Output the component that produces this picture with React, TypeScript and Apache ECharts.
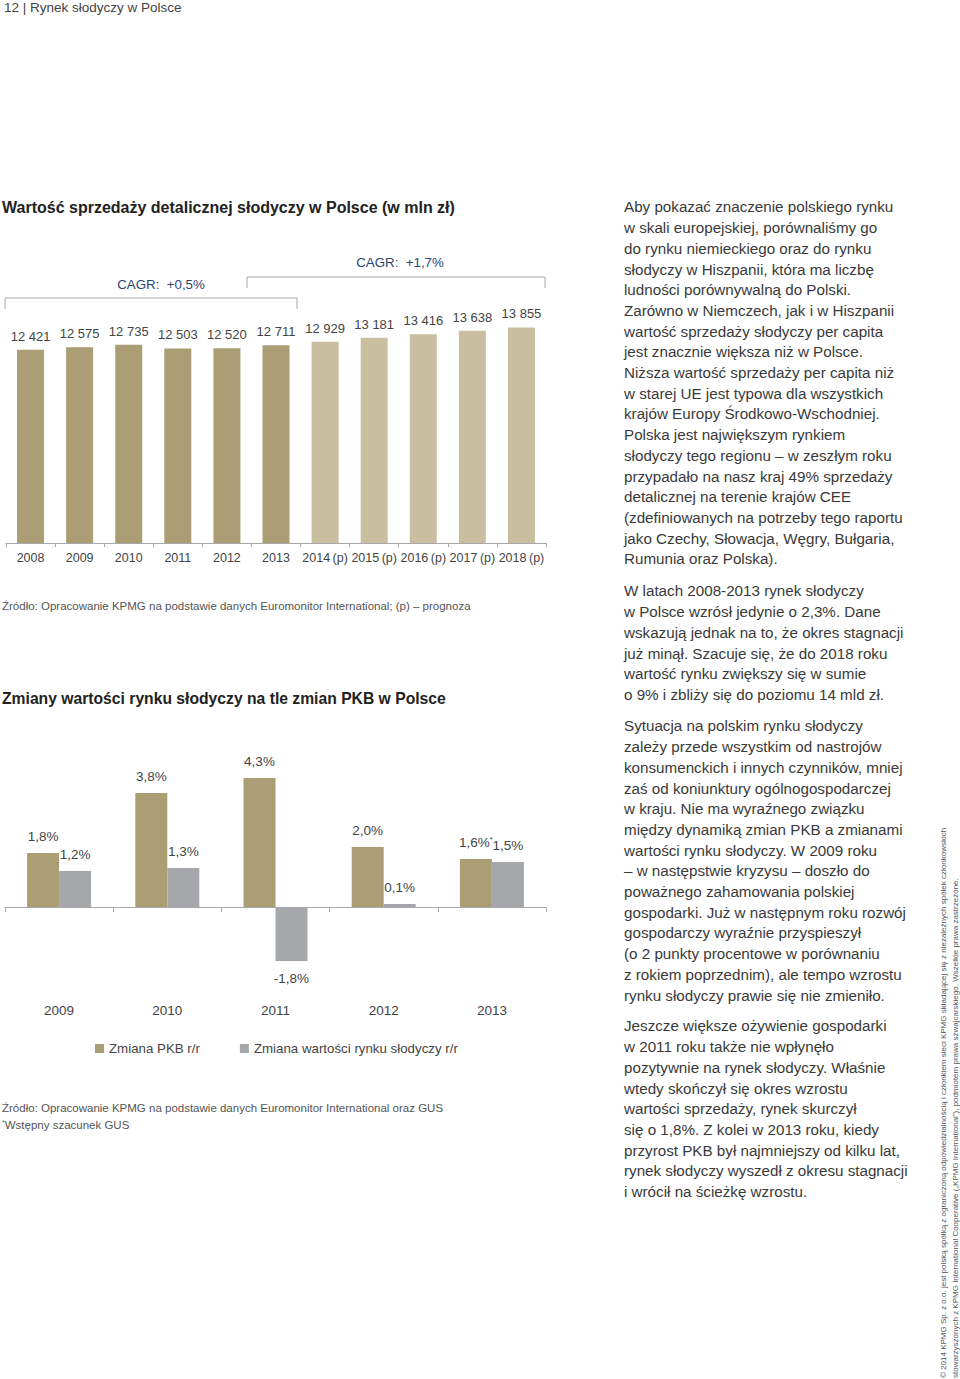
import React, { useEffect, useRef } from "react";
import * as echarts from "echarts";

// ---------- DATA ----------
const salesCategories = ["2008", "2009", "2010", "2011", "2012", "2013", "2014 (p)", "2015 (p)", "2016 (p)", "2017 (p)", "2018 (p)"];
const salesValues = [12421, 12575, 12735, 12503, 12520, 12711, 12929, 13181, 13416, 13638, 13855];
const cagrLabels = ["CAGR:  +0,5%", "CAGR:  +1,7%"];

const gdpYears = ["2009", "2010", "2011", "2012", "2013"];
const gdpChange = [1.8, 3.8, 4.3, 2.0, 1.6];
const gdpPreliminary = [false, false, false, false, true];
const sweetsChange = [1.2, 1.3, -1.8, 0.1, 1.5];
const seriesNames = ["Zmiana PKB r/r", "Zmiana wartości rynku słodyczy r/r"];

const headerText = "12 | Rynek słodyczy w Polsce";
const title1 = "Wartość sprzedaży detalicznej słodyczy w Polsce (w mln zł)";
const source1 = "Źródło: Opracowanie KPMG na podstawie danych Euromonitor International; (p) – prognoza";
const title2 = "Zmiany wartości rynku słodyczy na tle zmian PKB w Polsce";
const source2 = "Źródło: Opracowanie KPMG na podstawie danych Euromonitor International oraz GUS";
const footnote2 = "Wstępny szacunek GUS";

const paragraphs = [
  [
    "Aby pokazać znaczenie polskiego rynku",
    "w skali europejskiej, porównaliśmy go",
    "do rynku niemieckiego oraz do rynku",
    "słodyczy w Hiszpanii, która ma liczbę",
    "ludności porównywalną do Polski.",
    "Zarówno w Niemczech, jak i w Hiszpanii",
    "wartość sprzedaży słodyczy per capita",
    "jest znacznie większa niż w Polsce.",
    "Niższa wartość sprzedaży per capita niż",
    "w starej UE jest typowa dla wszystkich",
    "krajów Europy Środkowo-Wschodniej.",
    "Polska jest największym rynkiem",
    "słodyczy tego regionu – w zeszłym roku",
    "przypadało na nasz kraj 49% sprzedaży",
    "detalicznej na terenie krajów CEE",
    "(zdefiniowanych na potrzeby tego raportu",
    "jako Czechy, Słowacja, Węgry, Bułgaria,",
    "Rumunia oraz Polska).",
  ],
  [
    "W latach 2008-2013 rynek słodyczy",
    "w Polsce wzrósł jedynie o 2,3%. Dane",
    "wskazują jednak na to, że okres stagnacji",
    "już minął. Szacuje się, że do 2018 roku",
    "wartość rynku zwiększy się w sumie",
    "o 9% i zbliży się do poziomu 14 mld zł.",
  ],
  [
    "Sytuacja na polskim rynku słodyczy",
    "zależy przede wszystkim od nastrojów",
    "konsumenckich i innych czynników, mniej",
    "zaś od koniunktury ogólnogospodarczej",
    "w kraju. Nie ma wyraźnego związku",
    "między dynamiką zmian PKB a zmianami",
    "wartości rynku słodyczy. W 2009 roku",
    "– w następstwie kryzysu – doszło do",
    "poważnego zahamowania polskiej",
    "gospodarki. Już w następnym roku rozwój",
    "gospodarczy wyraźnie przyspieszył",
    "(o 2 punkty procentowe w porównaniu",
    "z rokiem poprzednim), ale tempo wzrostu",
    "rynku słodyczy prawie się nie zmieniło.",
  ],
  [
    "Jeszcze większe ożywienie gospodarki",
    "w 2011 roku także nie wpłynęło",
    "pozytywnie na rynek słodyczy. Właśnie",
    "wtedy skończył się okres wzrostu",
    "wartości sprzedaży, rynek skurczył",
    "się o 1,8%. Z kolei w 2013 roku, kiedy",
    "przyrost PKB był najmniejszy od kilku lat,",
    "rynek słodyczy wyszedł z okresu stagnacji",
    "i wrócił na ścieżkę wzrostu.",
  ],
];

const copyrightLines = [
  "© 2014 KPMG Sp. z o.o. jest polską spółką z ograniczoną odpowiedzialnością i członkiem sieci KPMG składającej się z niezależnych spółek członkowskich",
  "stowarzyszonych z KPMG International Cooperative („KPMG International”), podmiotem prawa szwajcarskiego. Wszelkie prawa zastrzeżone.",
];

// ---------- STYLE ----------
const FONT = "'Liberation Sans', Arial, sans-serif";
const DARK = "#ab9d74";
const LIGHT = "#c9be9f";
const GRAY = "#a5a7aa";
const TEXT = "#3a3a3a";
const NAVY = "#2c4672";
const LINE = "#a8a8a8";

const fmtThousands = (v: number) => {
  const s = String(v);
  return s.slice(0, s.length - 3) + " " + s.slice(s.length - 3);
};
const fmtPct = (v: number) => v.toFixed(1).replace(".", ",") + "%";

export default function App() {
  const ref = useRef<HTMLDivElement>(null);

  useEffect(() => {
    if (!ref.current) return;
    const chart = echarts.init(ref.current, null, { renderer: "svg" });

    const paraTops = [196.6, 580.6, 715.6, 1015.6];
    const graphics: any[] = [
      {
        type: "text",
        x: 4,
        y: 7,
        style: { text: headerText, font: `13.5px ${FONT}`, fill: "#444", textVerticalAlign: "middle" },
      },
      {
        type: "text",
        x: 2,
        y: 207,
        style: { text: title1, font: `bold 16px ${FONT}`, fill: "#222", textVerticalAlign: "middle" },
      },
      {
        type: "polyline",
        shape: { points: [[5, 309], [5, 298], [297, 298], [297, 309]] },
        style: { stroke: LINE, lineWidth: 1, fill: null },
      },
      {
        type: "polyline",
        shape: { points: [[247, 288], [247, 277], [545, 277], [545, 288]] },
        style: { stroke: LINE, lineWidth: 1, fill: null },
      },
      {
        type: "text",
        x: 161,
        y: 284,
        style: { text: cagrLabels[0], font: `13.3px ${FONT}`, fill: NAVY, textAlign: "center", textVerticalAlign: "middle" },
      },
      {
        type: "text",
        x: 400,
        y: 262,
        style: { text: cagrLabels[1], font: `13.3px ${FONT}`, fill: NAVY, textAlign: "center", textVerticalAlign: "middle" },
      },
      {
        type: "text",
        x: 2,
        y: 606,
        style: { text: source1, font: `11.5px ${FONT}`, fill: "#555", textVerticalAlign: "middle" },
      },
      {
        type: "text",
        x: 2,
        y: 698,
        style: { text: title2, font: `bold 15.7px ${FONT}`, fill: "#222", textVerticalAlign: "middle" },
      },
      {
        type: "text",
        x: 2,
        y: 1108,
        style: { text: source2, font: `11.5px ${FONT}`, fill: "#555", textVerticalAlign: "middle" },
      },
      {
        type: "text",
        x: 2,
        y: 1125,
        style: {
          text: "{s|*}{t|" + footnote2 + "}",
          textVerticalAlign: "middle",
          rich: {
            s: { fontSize: 7, fontFamily: FONT, fill: "#555", verticalAlign: "top" },
            t: { fontSize: 11.5, fontFamily: FONT, fill: "#555" },
          },
        },
      },
    ];

    paragraphs.forEach((lines, i) => {
      graphics.push({
        type: "text",
        x: 624,
        y: paraTops[i],
        style: {
          text: lines.join("\n"),
          font: `15.2px ${FONT}`,
          fill: TEXT,
          lineHeight: 20.7,
          textVerticalAlign: "top",
        },
      });
    });

    copyrightLines.forEach((line, i) => {
      graphics.push({
        type: "text",
        x: 943 + i * 12,
        y: 1378,
        rotation: Math.PI / 2,
        style: { text: line, font: `8px ${FONT}`, fill: "#555", textAlign: "left", textVerticalAlign: "middle" },
      });
    });

    const labelStyle = { fontSize: 13, color: "#444", fontFamily: FONT };

    const option: any = {
      animation: false,
      backgroundColor: "#fff",
      textStyle: { fontFamily: FONT },
      grid: [
        { left: 6, top: 294, width: 540, height: 249 },
        { left: 5, top: 757, width: 541, height: 225 },
      ],
      xAxis: [
        {
          gridIndex: 0,
          type: "category",
          data: salesCategories,
          axisLine: { lineStyle: { color: LINE } },
          axisTick: { show: true, length: 4, lineStyle: { color: LINE } },
          axisLabel: {
            fontSize: 12.5,
            color: "#444",
            fontFamily: FONT,
            margin: 8,
            interval: 0,
            formatter: (v: string) => v.replace(" ", "\u2009"),
          },
        },
        {
          gridIndex: 1,
          type: "category",
          data: gdpYears,
          position: "bottom",
          axisLine: { onZero: true, lineStyle: { color: LINE } },
          axisTick: { show: true, length: 5, lineStyle: { color: LINE } },
          axisLabel: { show: false },
        },
        {
          gridIndex: 1,
          type: "category",
          data: gdpYears,
          position: "bottom",
          axisLine: { show: false, onZero: false },
          axisTick: { show: false },
          axisLabel: { ...labelStyle, fontSize: 13.5, margin: 21 },
        },
      ],
      yAxis: [
        { gridIndex: 0, type: "value", min: 0, max: 16000, show: false },
        { gridIndex: 1, type: "value", min: -2.5, max: 5, show: false },
      ],
      legend: {
        data: seriesNames,
        left: 90,
        top: 1037,
        icon: "rect",
        itemWidth: 9,
        itemHeight: 9,
        itemGap: 40,
        textStyle: { fontSize: 13.3, color: "#444", fontFamily: FONT },
      },
      series: [
        {
          type: "bar",
          name: "Wartość sprzedaży",
          xAxisIndex: 0,
          yAxisIndex: 0,
          barWidth: 27,
          data: salesValues.map((v, i) => ({
            value: v,
            itemStyle: { color: salesCategories[i].includes("(p)") ? LIGHT : DARK },
          })),
          label: {
            show: true,
            position: "top",
            distance: 7,
            fontSize: 13,
            color: "#444",
            fontFamily: FONT,
            formatter: (p: any) => fmtThousands(p.value),
          },
        },
        {
          type: "bar",
          name: seriesNames[0],
          xAxisIndex: 1,
          yAxisIndex: 1,
          barWidth: 32,
          barGap: "0%",
          itemStyle: { color: DARK },
          data: gdpChange,
          label: {
            show: true,
            position: "top",
            distance: 10,
            fontSize: 13.5,
            color: "#444",
            fontFamily: FONT,
            formatter: (p: any) =>
              gdpPreliminary[p.dataIndex] ? "{v|" + fmtPct(p.value) + "}{s|*}" : fmtPct(p.value),
            rich: {
              v: { fontSize: 13.5, color: "#444", fontFamily: FONT },
              s: { fontSize: 8, color: "#444", fontFamily: FONT, verticalAlign: "top" },
            },
          },
        },
        {
          type: "bar",
          name: seriesNames[1],
          xAxisIndex: 1,
          yAxisIndex: 1,
          barWidth: 32,
          barGap: "0%",
          itemStyle: { color: GRAY },
          data: sweetsChange.map((v) => (v < 0 ? { value: v, label: { position: "bottom" } } : v)),
          label: {
            show: true,
            position: "top",
            distance: 10,
            fontSize: 13.5,
            color: "#444",
            fontFamily: FONT,
            formatter: (p: any) => fmtPct(p.value),
          },
        },
      ],
      graphic: graphics,
    };

    chart.setOption(option);
    return () => chart.dispose();
  }, []);

  return (
    <div
      ref={ref}
      style={{ position: "absolute", left: 0, top: 0, width: 960, height: 1379, background: "#fff" }}
    />
  );
}
